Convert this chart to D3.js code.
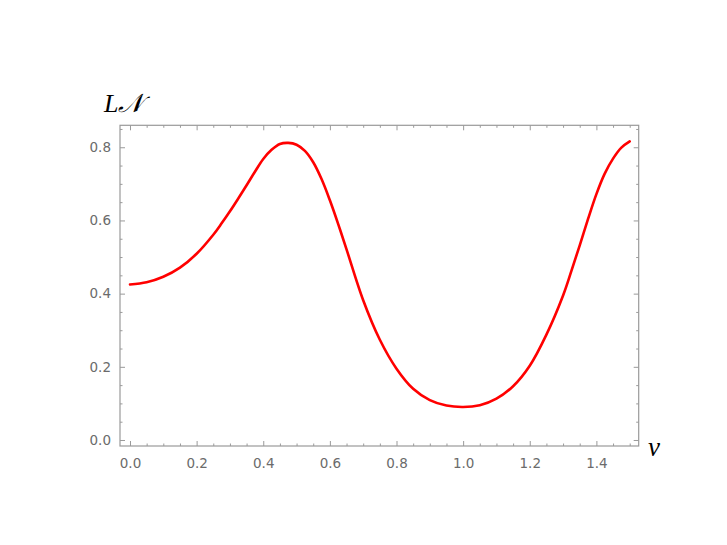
<!DOCTYPE html>
<html><head><meta charset="utf-8">
<script src="https://cdn.jsdelivr.net/npm/d3@7"></script>
<style>body{margin:0;background:#fff}svg{display:block}</style>
</head><body>
<script>
const nuValues = [0, 0.05, 0.10, 0.15, 0.20, 0.25, 0.275, 0.30, 0.325, 0.35, 0.375, 0.40, 0.425, 0.45, 0.475, 0.50, 0.525, 0.55, 0.575, 0.60, 0.625, 0.65, 0.70, 0.75, 0.80, 0.85, 0.90, 0.95, 1.00, 1.05, 1.10, 1.15, 1.20, 1.25, 1.30, 1.325, 1.35, 1.375, 1.40, 1.425, 1.45, 1.475, 1.50];
const lnValues = [0.425, 0.431, 0.446, 0.471, 0.509, 0.561, 0.592, 0.625, 0.660, 0.696, 0.733, 0.768, 0.793, 0.809, 0.812, 0.807, 0.790, 0.759, 0.713, 0.655, 0.590, 0.521, 0.382, 0.274, 0.195, 0.140, 0.109, 0.094, 0.090, 0.095, 0.113, 0.147, 0.203, 0.288, 0.395, 0.462, 0.532, 0.604, 0.672, 0.728, 0.769, 0.799, 0.816];
const xTicks = [0, 0.2, 0.4, 0.6, 0.8, 1.0, 1.2, 1.4];
const yTicks = [0, 0.2, 0.4, 0.6, 0.8];

const W = 727, H = 545;
const pLeft = 120, pRight = 638.7, pTop = 125.3, pBottom = 446;
const x = d3.scaleLinear().domain([-0.03, 1.527]).range([pLeft, pRight]);
const y = d3.scaleLinear().domain([-0.0164, 0.86]).range([pBottom, pTop]);

const svg = d3.select("body").append("svg").attr("width", W).attr("height", H);
const frameColor = "#9a9a9a", labelColor = "#6b6b6b";
const font = "'DejaVu Sans', sans-serif";

const xMinor = d3.range(0, 1.52, 0.05).filter(v => xTicks.every(t => Math.abs(t - v) > 1e-6));
const yMinor = d3.range(0, 0.86, 0.05).filter(v => yTicks.every(t => Math.abs(t - v) > 1e-6));

const fmt = d3.format(".1f");
svg.append("g").attr("transform", `translate(0,${pBottom})`)
  .call(d3.axisBottom(x).tickValues(xTicks).tickFormat(fmt).tickSizeInner(-5).tickSizeOuter(0).tickPadding(12));
svg.append("g").attr("transform", `translate(0,${pBottom})`)
  .call(d3.axisBottom(x).tickValues(xMinor).tickFormat("").tickSizeInner(-2.5).tickSizeOuter(0));
svg.append("g").attr("transform", `translate(0,${pTop})`)
  .call(d3.axisTop(x).tickValues(xTicks).tickFormat("").tickSizeInner(-5).tickSizeOuter(0));
svg.append("g").attr("transform", `translate(0,${pTop})`)
  .call(d3.axisTop(x).tickValues(xMinor).tickFormat("").tickSizeInner(-2.5).tickSizeOuter(0));
svg.append("g").attr("transform", `translate(${pLeft},0)`)
  .call(d3.axisLeft(y).tickValues(yTicks).tickFormat(fmt).tickSizeInner(-5).tickSizeOuter(0).tickPadding(9));
svg.append("g").attr("transform", `translate(${pLeft},0)`)
  .call(d3.axisLeft(y).tickValues(yMinor).tickFormat("").tickSizeInner(-2.5).tickSizeOuter(0));
svg.append("g").attr("transform", `translate(${pRight},0)`)
  .call(d3.axisRight(y).tickValues(yTicks).tickFormat("").tickSizeInner(-5).tickSizeOuter(0));
svg.append("g").attr("transform", `translate(${pRight},0)`)
  .call(d3.axisRight(y).tickValues(yMinor).tickFormat("").tickSizeInner(-2.5).tickSizeOuter(0));

svg.selectAll(".domain").remove();
svg.selectAll(".tick line").attr("stroke", frameColor).attr("stroke-width", 1);
svg.selectAll(".tick text").attr("fill", labelColor).attr("font-family", font).attr("font-size", 13.5);

svg.append("rect").attr("x", pLeft).attr("y", pTop).attr("width", pRight - pLeft).attr("height", pBottom - pTop)
  .attr("fill", "none").attr("stroke", frameColor).attr("stroke-width", 1.2);

const pts = nuValues.map((v, i) => [v, lnValues[i]]);
svg.append("path").datum(pts)
  .attr("d", d3.line().x(d => x(d[0])).y(d => y(d[1])).curve(d3.curveCatmullRom.alpha(0.5)))
  .attr("fill", "none").attr("stroke", "#ff0000").attr("stroke-width", 2.6).attr("stroke-linecap", "round");

svg.append("text").attr("x", 104).attr("y", 112)
  .attr("font-family", "'Liberation Serif','DejaVu Serif',serif").attr("font-style", "italic").attr("font-size", 26)
  .attr("fill", "#000").text("L𝒩");
svg.append("text").attr("x", 648).attr("y", 456)
  .attr("font-family", "'Liberation Serif','DejaVu Serif',serif").attr("font-style", "italic").attr("font-size", 27)
  .attr("fill", "#000").text("ν");
</script>
</body></html>
